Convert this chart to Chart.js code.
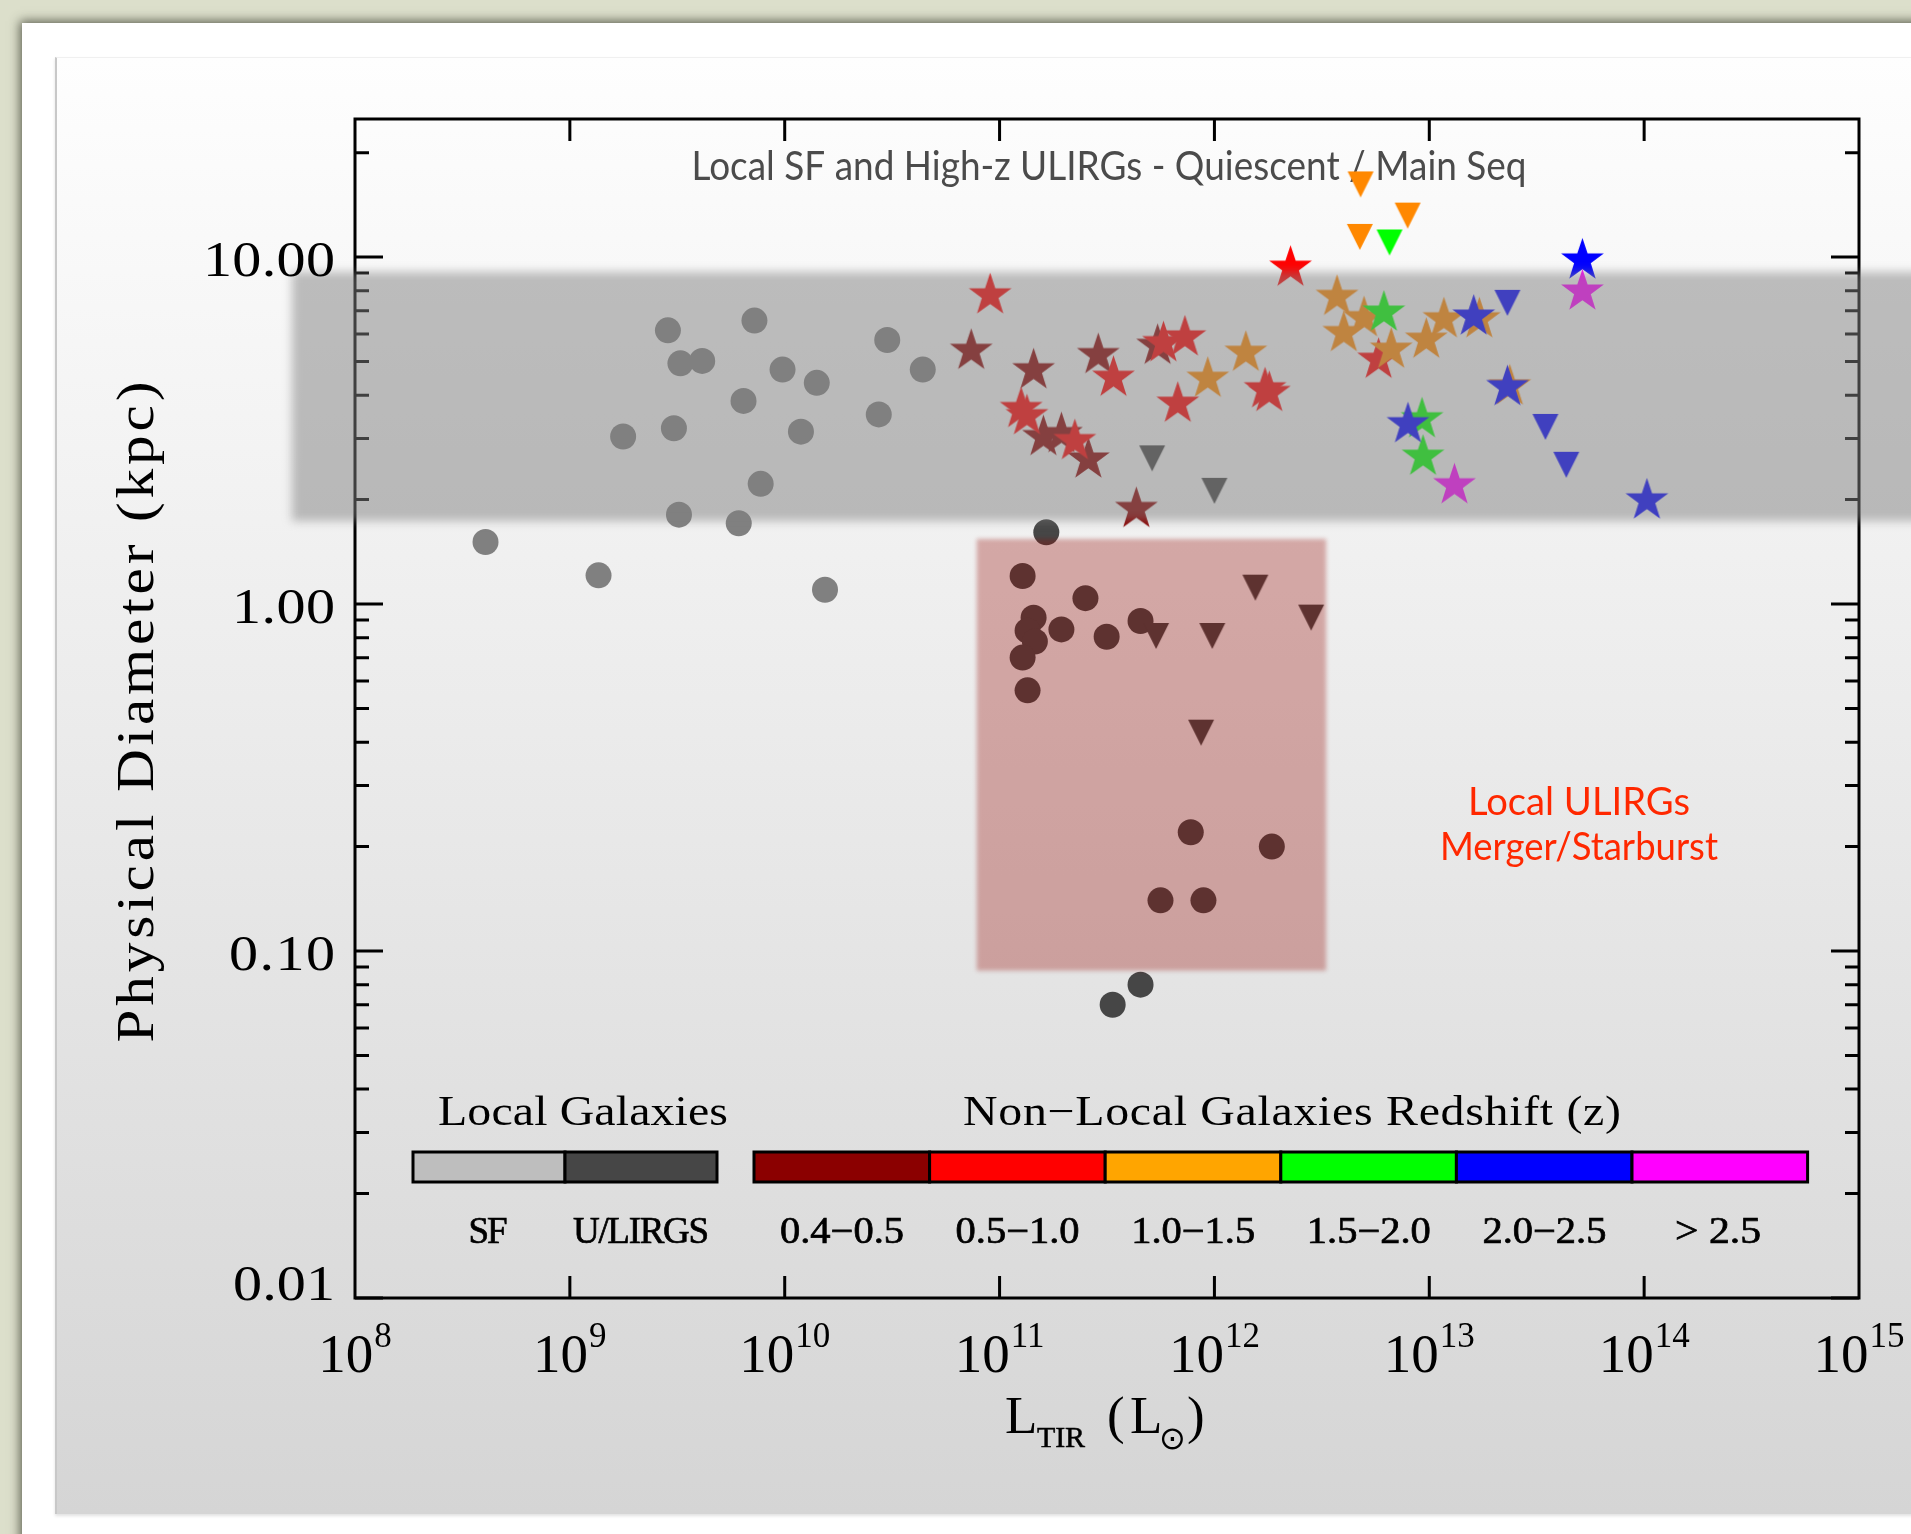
<!DOCTYPE html>
<html lang="en">
<head>
  <meta charset="UTF-8" />
  <title>Physical Diameter vs L_TIR</title>
  <script src="https://cdn.jsdelivr.net/npm/chart.js@4.4.1/dist/chart.umd.min.js"></script>
  <style>
    html, body { margin: 0; padding: 0; }
    body {
      width: 1911px;
      height: 1534px;
      overflow: hidden;
      position: relative;
      background: #dcdfcb;
    }
    .card {
      position: absolute;
      left: 22px;
      top: 23px;
      width: 1920px;
      height: 1540px;
      background: #fff;
      box-shadow: 0 0 10px 2px rgba(60, 62, 50, 0.8);
    }
    .panel {
      position: absolute;
      left: 55px;
      top: 57px;
      width: 1880px;
      height: 1456px;
      background: linear-gradient(#fefefe, #d5d5d5);
      border-left: 2px solid #c8c8c8;
      border-top: 1px solid #f0f0f0;
      box-shadow: 0 2px 3px rgba(0, 0, 0, 0.12);
    }
    #chart { position: absolute; left: 0; top: 0; }
  </style>
</head>
<body>
  <div class="card"></div>
  <div class="panel"></div>
  <canvas id="chart" width="1911" height="1534"></canvas>

  <script>
    // local star forming galaxies (grey dots)
    const sfLum  = [4.05e8, 1.36e9, 1.77e9, 2.86e9, 3.27e9, 4.13e9, 3.05e9, 3.22e9, 6.11e9, 6.43e9,
                    7.23e9, 7.73e9, 9.77e9, 1.19e10, 1.41e10, 1.54e10, 2.74e10, 3.00e10, 4.39e10];
    const sfDiam = [1.51, 1.21, 3.04, 6.15, 4.94, 5.02, 3.21, 1.81, 1.71, 3.85,
                    6.56, 2.22, 4.74, 3.14, 4.34, 1.10, 3.52, 5.77, 4.74];

    // local U/LIRGs (dark dots) and their upper limits (triangles)
    const lirgLum  = [1.65e11, 3.36e11, 4.53e11, 1.28e11, 2.51e11, 1.44e11, 1.35e11, 1.46e11, 1.94e11,
                      3.15e11, 4.53e11, 1.28e11, 1.35e11, 7.76e11, 1.85e12, 5.61e11, 8.89e11];
    const lirgDiam = [1.61, 0.070, 0.080, 1.205, 1.04, 0.913, 0.838, 0.780, 0.845,
                      0.805, 0.894, 0.701, 0.564, 0.220, 0.200, 0.140, 0.140];
    const lirgLimLum  = [5.13e11, 1.00e12, 1.55e12, 2.82e12, 5.35e11, 9.77e11, 8.67e11];
    const lirgLimDiam = [2.63, 2.12, 1.115, 0.914, 0.809, 0.809, 0.426];

    // non-local galaxies, one pair of arrays per redshift bin
    const z1Lum  = [7.38e10, 1.44e11, 1.60e11, 1.94e11, 2.59e11, 2.88e11, 5.44e11, 4.33e11];
    const z1Diam = [5.37, 4.72, 3.03, 3.09, 2.61, 5.22, 5.55, 1.88];
    const z2Lum  = [9.04e10, 1.26e11, 1.34e11, 2.24e11, 3.39e11, 5.79e11, 7.29e11, 6.75e11, 1.72e12, 1.80e12, 2.26e12, 5.81e12];
    const z2Diam = [7.76, 3.65, 3.48, 2.95, 4.49, 5.65, 5.87, 3.78, 4.16, 4.06, 9.32, 5.06];
    const z3Lum  = [9.31e11, 1.40e12, 3.72e12, 4.97e12, 4.00e12, 6.65e12, 1.17e13, 9.68e12, 1.71e13, 2.37e13];
    const z3Diam = [4.46, 5.30, 7.68, 6.67, 6.04, 5.41, 6.62, 5.78, 6.62, 4.24];
    const z3LimLum  = [4.79e12, 7.93e12, 4.75e12];
    const z3LimDiam = [16.2, 13.17, 11.43];
    const z4Lum  = [6.15e12, 9.25e12, 9.35e12];
    const z4Diam = [6.92, 3.41, 2.66];
    const z4LimLum  = [6.53e12];
    const z4LimDiam = [11.02];
    const z5Lum  = [5.16e13, 1.61e13, 2.31e13, 7.96e12, 1.03e14];
    const z5Diam = [9.78, 6.74, 4.22, 3.30, 1.99];
    const z5LimLum  = [2.31e13, 3.47e13, 4.34e13];
    const z5LimDiam = [7.38, 3.24, 2.52];
    const z6Lum  = [5.16e13, 1.31e13];
    const z6Diam = [7.96, 2.20];

    // shaded regions (data coords)
    const bandDiam = [1.735, 9.06];
    const boxLum = [7.83e10, 3.31e12];
    const boxDiam = [0.0878, 1.54];

    // axes
    const xTickExps = [8, 9, 10, 11, 12, 13, 14, 15];
    const yTickValues = [0.01, 0.1, 1, 10];
    const yTickLabels = ['0.01', '0.10', '1.00', '10.00'];

    // legend
    const localLabels = ['SF', 'U/LIRGS'];
    const localColors = ['#bebebe', '#464646'];
    const zLabels = ['0.4\u22120.5', '0.5\u22121.0', '1.0\u22121.5', '1.5\u22122.0', '2.0\u22122.5', '> 2.5'];
    const zColors = ['#8b0000', '#ff0000', '#ffa500', '#00ff00', '#0000ff', '#ff00ff'];
    const zPointColors = ['#8b0000', '#ff0000', '#ff8800', '#00ff00', '#0000ff', '#ff00ff'];

    const titleText = 'Local SF and High-z ULIRGs - Quiescent / Main Seq';
    const SERIF = '"Liberation Serif", "DejaVu Serif", serif';

    function starImage(color) {
      const R = 22.5, r = R * 0.39, s = Math.ceil(2 * R + 4);
      const c = document.createElement('canvas');
      c.width = s; c.height = s;
      const g = c.getContext('2d');
      g.fillStyle = color;
      g.beginPath();
      for (let i = 0; i < 10; i++) {
        const a = -Math.PI / 2 + i * Math.PI / 5;
        const rr = i % 2 ? r : R;
        g.lineTo(s / 2 + rr * Math.cos(a), s / 2 + rr * Math.sin(a));
      }
      g.closePath();
      g.fill();
      return c;
    }

    function triImage(color) {
      const c = document.createElement('canvas');
      c.width = 28; c.height = 28;
      const g = c.getContext('2d');
      g.fillStyle = color;
      g.beginPath();
      g.moveTo(1, 1); g.lineTo(27, 1); g.lineTo(14, 27);
      g.closePath();
      g.fill();
      return c;
    }

    function pts(xs, ys) {
      return xs.map((v, i) => ({ x: v, y: ys[i] }));
    }

    function circles(xs, ys, color) {
      return { data: pts(xs, ys), pointStyle: 'circle', pointRadius: 13, backgroundColor: color, borderWidth: 0 };
    }
    function stars(xs, ys, color) {
      return { data: pts(xs, ys), pointStyle: starImage(color), pointRadius: 20, backgroundColor: color };
    }
    function limits(xs, ys, color) {
      return { data: pts(xs, ys), pointStyle: triImage(color), pointRadius: 13, backgroundColor: color };
    }

    const datasets = [
      circles(sfLum, sfDiam, '#808080'),
      circles(lirgLum, lirgDiam, '#464646'),
      limits(lirgLimLum, lirgLimDiam, '#464646'),
      stars(z1Lum, z1Diam, zPointColors[0]),
      stars(z2Lum, z2Diam, zPointColors[1]),
      stars(z3Lum, z3Diam, zPointColors[2]),
      limits(z3LimLum, z3LimDiam, zPointColors[2]),
      stars(z4Lum, z4Diam, zPointColors[3]),
      limits(z4LimLum, z4LimDiam, zPointColors[3]),
      stars(z5Lum, z5Diam, zPointColors[4]),
      limits(z5LimLum, z5LimDiam, zPointColors[4]),
      stars(z6Lum, z6Diam, zPointColors[5])
    ];
    // later datasets on top
    datasets.forEach((d, i) => { d.order = datasets.length - i; d.clip = false; d.showLine = false; });

    // fit text to a width: widen the glyphs a little, then spread them (IDL fonts are wide)
    function fitText(ctx, text, x, y, width, align, bold) {
      ctx.letterSpacing = '0px';
      const w0 = ctx.measureText(text).width;
      const n = [...text].length;
      const s = Math.max(1, Math.min(width / w0, 1.14));
      const sp = n > 1 ? (width - w0 * s) / (n - 1) / s : 0;
      const left = align === 'center' ? x - width / 2 : align === 'right' ? x - width : x;
      ctx.save();
      ctx.translate(left, y);
      ctx.scale(s, 1);
      ctx.letterSpacing = sp + 'px';
      ctx.textAlign = 'left';
      ctx.fillText(text, 0, 0);
      if (bold) ctx.strokeText(text, 0, 0);
      ctx.restore();
      ctx.letterSpacing = '0px';
    }
    // squeeze/stretch text horizontally to a width
    function scaleText(ctx, text, x, y, width, align) {
      const w0 = ctx.measureText(text).width;
      const left = align === 'center' ? x - width / 2 : x;
      ctx.save();
      ctx.translate(left, y);
      ctx.scale(width / w0, 1);
      ctx.textAlign = 'left';
      ctx.fillText(text, 0, 0);
      ctx.restore();
    }

    const idlPlugin = {
      id: 'idlFrame',
      beforeDatasetsDraw(chart) {
        const { ctx, chartArea: a, scales: { x, y } } = chart;
        ctx.save();
        ctx.textBaseline = 'alphabetic';

        ctx.fillStyle = '#4b4b4b';
        ctx.font = '40px Lato';
        scaleText(ctx, titleText, 1109, 180, 835, 'center');

        // frame and inward ticks
        ctx.strokeStyle = '#000';
        ctx.lineWidth = 3;
        ctx.strokeRect(a.left, a.top, a.right - a.left, a.bottom - a.top);
        ctx.beginPath();
        xTickExps.slice(1, -1).forEach(e => {
          const px = x.getPixelForValue(Math.pow(10, e));
          ctx.moveTo(px, a.bottom); ctx.lineTo(px, a.bottom - 22);
          ctx.moveTo(px, a.top); ctx.lineTo(px, a.top + 22);
        });
        for (let n = -2; n <= 1; n++) {
          for (let k = 1; k <= 9; k++) {
            const v = k * Math.pow(10, n);
            if (v > y.max) continue;
            const py = y.getPixelForValue(v);
            const len = k === 1 ? 28 : 14;
            ctx.moveTo(a.left, py); ctx.lineTo(a.left + len, py);
            ctx.moveTo(a.right, py); ctx.lineTo(a.right - len, py);
          }
        }
        ctx.stroke();
        ctx.restore();
      },
      afterDatasetsDraw(chart) {
        const { ctx, chartArea: a, scales: { x, y } } = chart;
        ctx.save();

        // grey main-sequence band, drawn over everything
        const bTop = y.getPixelForValue(bandDiam[1]);
        const bBot = y.getPixelForValue(bandDiam[0]);
        ctx.filter = 'blur(5px)';
        ctx.fillStyle = 'rgba(128,128,128,0.5)';
        ctx.fillRect(a.left - 63, bTop, chart.width + 40 - (a.left - 63), bBot - bTop);

        // local ULIRG box
        const rx0 = x.getPixelForValue(boxLum[0]), rx1 = x.getPixelForValue(boxLum[1]);
        const ry0 = y.getPixelForValue(boxDiam[1]), ry1 = y.getPixelForValue(boxDiam[0]);
        ctx.filter = 'blur(2px)';
        ctx.fillStyle = 'rgba(150,5,0,0.31)';
        ctx.fillRect(rx0, ry0, rx1 - rx0, ry1 - ry0);
        ctx.filter = 'none';

        ctx.fillStyle = '#ff2800';
        ctx.font = '38px Lato';
        scaleText(ctx, 'Local ULIRGs', 1579, 815, 222, 'center');
        scaleText(ctx, 'Merger/Starburst', 1579, 860, 278, 'center');

        // y tick labels
        ctx.fillStyle = '#000';
        ctx.font = '51px ' + SERIF;
        const yLabW = [102, 106, 103, 132];
        yTickValues.forEach((v, i) => {
          const py = y.getPixelForValue(v);
          const base = i === 0 ? py + 2 : py + 19;
          fitText(ctx, yTickLabels[i], 335, base, yLabW[i], 'right');
        });

        // x tick labels 10^n
        xTickExps.forEach(e => {
          const px = x.getPixelForValue(Math.pow(10, e));
          ctx.font = '55px ' + SERIF;
          const wb = ctx.measureText('10').width;
          ctx.font = '35px ' + SERIF;
          const ws = ctx.measureText(String(e)).width;
          const left = px - (wb + 1 + ws) / 2;
          ctx.textAlign = 'left';
          ctx.font = '55px ' + SERIF;
          ctx.fillText('10', left, 1372);
          ctx.font = '35px ' + SERIF;
          ctx.fillText(String(e), left + wb + 1, 1347);
        });

        // axis titles
        ctx.font = '53px ' + SERIF;
        ctx.textAlign = 'left';
        ctx.fillText('L', 1005, 1433);
        ctx.fillText('(', 1107, 1433);
        ctx.fillText('L', 1130, 1433);
        ctx.fillText(')', 1187, 1433);
        ctx.font = '30px ' + SERIF;
        ctx.lineWidth = 0.5;
        ctx.strokeStyle = '#000';
        fitText(ctx, 'TIR', 1037, 1447, 48, 'left', true);
        ctx.font = '32px "DejaVu Sans"';
        ctx.fillText('\u2299', 1159, 1449);

        ctx.save();
        ctx.translate(153, 712);
        ctx.rotate(-Math.PI / 2);
        ctx.font = '52px ' + SERIF;
        fitText(ctx, 'Physical Diameter (kpc)', 0, 0, 661, 'center');
        ctx.restore();

        // legend
        ctx.font = '42px ' + SERIF;
        fitText(ctx, 'Local Galaxies', 438, 1125, 290, 'left');
        fitText(ctx, 'Non\u2212Local Galaxies Redshift (z)', 963, 1125, 658, 'left');

        ctx.lineWidth = 3;
        ctx.strokeStyle = '#000';
        const barTop = 1152, barH = 30;
        localColors.forEach((c, i) => {
          const bx = 413 + i * 152;
          ctx.fillStyle = c;
          ctx.fillRect(bx, barTop, 152, barH);
          ctx.strokeRect(bx, barTop, 152, barH);
        });
        zColors.forEach((c, i) => {
          const bx = 754 + i * 175.6;
          ctx.fillStyle = c;
          ctx.fillRect(bx, barTop, 175.6, barH);
          ctx.strokeRect(bx, barTop, 175.6, barH);
        });

        ctx.fillStyle = '#000';
        ctx.strokeStyle = '#000';
        ctx.lineWidth = 0.7;
        ctx.font = '37px ' + SERIF;
        const localCx = [488, 641], localW = [39, 136];
        localLabels.forEach((t, i) => fitText(ctx, t, localCx[i], 1243, localW[i], 'center', true));
        zLabels.forEach((t, i) => {
          const cx = 842 + i * 175.6;
          fitText(ctx, t, cx - (i === 5 ? 2 : 0), 1243, i === 5 ? 86 : 124, 'center', true);
        });

        ctx.restore();
      }
    };

    new Chart(document.getElementById('chart'), {
      type: 'scatter',
      data: { datasets },
      options: {
        responsive: false,
        animation: false,
        layout: { padding: { left: 355, top: 119, right: 52, bottom: 236 } },
        plugins: { legend: { display: false }, tooltip: { enabled: false } },
        scales: {
          x: { type: 'logarithmic', min: 1e8, max: 1e15, display: false },
          y: { type: 'logarithmic', min: 0.01, max: 25, display: false }
        }
      },
      plugins: [idlPlugin]
    });
  </script>
</body>
</html>
